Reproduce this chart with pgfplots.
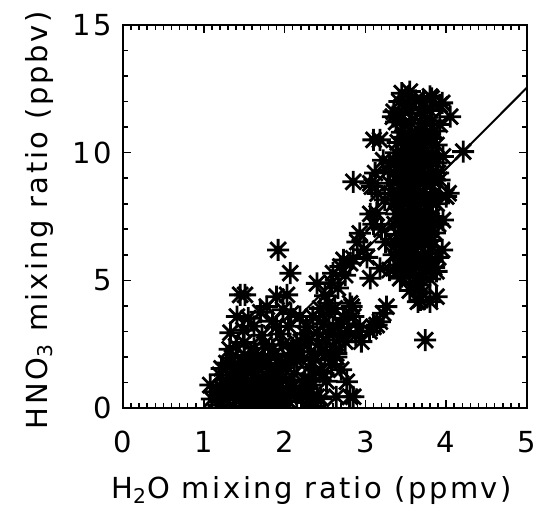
\documentclass[border=0pt]{standalone}
\usepackage{fontspec}
\setmainfont{DejaVu Sans}[LetterSpace=9]
\usepackage{pgfplots}
\pgfplotsset{compat=1.18}
\newcommand{\lab}{\fontsize{14.5}{17}\selectfont}
% eight-armed asterisk, as in the IDL plot
\pgfdeclareplotmark{ast8}{%
  \pgfpathmoveto{\pgfqpoint{-\pgfplotmarksize}{0pt}}\pgfpathlineto{\pgfqpoint{\pgfplotmarksize}{0pt}}%
  \pgfpathmoveto{\pgfqpoint{0pt}{-\pgfplotmarksize}}\pgfpathlineto{\pgfqpoint{0pt}{\pgfplotmarksize}}%
  \pgfpathmoveto{\pgfqpoint{-.7071\pgfplotmarksize}{-.7071\pgfplotmarksize}}\pgfpathlineto{\pgfqpoint{.7071\pgfplotmarksize}{.7071\pgfplotmarksize}}%
  \pgfpathmoveto{\pgfqpoint{-.7071\pgfplotmarksize}{.7071\pgfplotmarksize}}\pgfpathlineto{\pgfqpoint{.7071\pgfplotmarksize}{-.7071\pgfplotmarksize}}%
  \pgfusepathqstroke}

\pgfplotstableread{
x y
1.10 0.35
1.18 0.12
1.25 0.42
1.32 0.08
1.40 0.30
1.48 0.05
1.55 0.28
1.62 0.10
1.70 0.38
1.78 0.14
1.86 0.30
1.95 0.08
2.05 0.26
2.15 0.42
2.30 0.22
2.38 0.08
2.45 0.36
1.08 0.90
1.15 0.64
1.22 0.82
1.30 0.58
1.38 0.86
1.45 0.70
1.52 0.96
1.60 0.66
1.68 0.84
1.75 0.60
1.83 0.92
1.90 0.70
1.98 0.54
2.08 0.80
2.20 0.62
2.28 0.76
1.20 1.30
1.28 1.10
1.35 1.42
1.42 1.16
1.50 1.36
1.58 1.04
1.65 1.30
1.72 1.14
1.80 1.42
1.88 1.20
1.95 1.46
2.02 1.10
2.12 1.34
1.28 1.76
1.35 1.96
1.42 1.70
1.50 2.06
1.57 1.80
1.65 2.00
1.72 1.66
1.80 1.90
1.88 2.10
1.95 1.74
2.05 2.00
2.15 1.86
1.32 2.30
1.40 2.42
1.50 2.56
1.62 2.34
1.75 2.50
1.85 2.30
1.98 2.46
2.10 2.36
2.20 2.60
1.45 0.40
1.60 0.45
1.75 0.95
1.55 0.60
1.65 0.15
1.85 1.00
1.40 1.00
1.50 1.75
1.22 0.50
1.37 0.52
1.52 0.48
1.67 0.55
1.82 0.50
1.97 0.45
1.22 1.55
1.37 1.58
1.52 1.52
1.67 1.60
1.82 1.55
1.97 1.58
2.25 1.10
2.35 1.30
2.42 2.50
2.50 2.10
2.20 2.20
2.30 2.70
2.55 2.90
2.05 3.20
2.60 3.20
2.35 0.90
1.33 2.95
1.41 3.58
1.49 3.05
1.55 3.52
1.62 3.20
1.70 3.75
1.78 3.97
1.85 3.40
1.90 3.18
1.45 4.43
1.51 4.43
1.90 4.36
2.03 4.43
1.92 6.19
2.07 5.28
1.98 3.85
2.08 3.70
1.72 2.85
1.95 2.90
2.19 3.58
2.27 3.18
2.35 3.58
2.40 4.88
2.44 3.90
2.52 2.66
2.60 2.40
2.64 2.00
2.15 2.00
2.15 2.54
2.25 2.90
2.32 2.20
2.40 2.95
2.48 3.30
2.55 3.70
2.30 1.60
2.38 1.90
2.45 1.45
2.48 1.36
2.52 1.05
2.58 1.70
2.64 2.14
2.70 1.50
2.77 1.03
2.85 0.44
2.64 0.44
2.81 0.44
2.23 0.44
2.29 0.57
2.11 0.84
2.40 0.44
2.60 5.28
2.73 5.80
2.85 5.86
2.81 5.67
2.69 5.54
2.75 5.20
2.58 4.90
2.66 4.70
2.50 4.40
2.55 4.10
2.62 3.90
2.73 3.51
2.81 4.10
2.83 3.97
2.85 3.58
2.93 3.18
2.70 3.30
2.78 3.00
2.68 2.80
2.75 2.60
2.95 2.60
2.88 2.85
3.10 3.18
3.14 3.25
3.22 3.71
3.26 3.97
3.18 3.38
3.05 3.00
2.93 6.84
2.90 6.50
2.98 6.20
3.02 5.90
3.06 5.08
3.18 5.47
3.35 6.00
3.06 7.60
3.14 7.63
3.10 7.20
3.20 7.00
3.24 8.15
3.25 6.50
3.30 5.40
3.43 5.08
3.59 4.88
3.68 4.82
2.85 8.86
3.06 8.80
3.08 8.67
3.15 8.40
3.12 9.20
3.18 10.50
3.10 10.50
3.22 9.70
3.28 9.30
3.68 4.23
3.80 4.16
3.88 4.36
3.65 4.16
3.74 2.66
3.55 4.60
3.70 4.50
3.45 5.15
3.55 5.30
3.62 5.10
3.72 5.25
3.80 5.05
3.88 5.35
3.40 5.60
3.50 5.50
3.58 5.70
3.66 5.55
3.75 5.65
3.85 5.50
3.42 6.05
3.52 5.90
3.60 6.10
3.70 5.95
3.78 6.05
3.90 5.90
3.38 6.40
3.47 6.30
3.56 6.50
3.64 6.35
3.73 6.45
3.82 6.30
3.95 6.19
3.40 6.80
3.50 6.90
3.59 6.75
3.68 6.85
3.77 6.70
3.86 6.85
3.36 7.20
3.45 7.10
3.54 7.30
3.62 7.15
3.70 7.25
3.80 7.10
3.90 7.20
3.38 7.60
3.48 7.50
3.57 7.70
3.66 7.55
3.74 7.65
3.83 7.50
3.96 7.36
3.35 8.00
3.44 7.90
3.52 8.10
3.60 7.95
3.69 8.05
3.78 7.90
3.88 8.00
3.32 8.40
3.42 8.30
3.50 8.50
3.58 8.35
3.66 8.45
3.75 8.30
3.85 8.40
4.03 8.41
3.30 8.80
3.40 8.90
3.48 8.75
3.56 8.85
3.64 8.70
3.73 8.90
3.82 8.75
3.92 8.93
3.35 9.20
3.45 9.10
3.53 9.30
3.62 9.15
3.70 9.25
3.80 9.10
3.90 9.20
3.30 9.60
3.42 9.50
3.50 9.70
3.60 9.55
3.68 9.65
3.78 9.50
3.88 9.60
3.38 10.00
3.48 9.90
3.56 10.10
3.65 9.95
3.74 10.05
3.84 9.90
3.96 9.85
3.40 10.40
3.50 10.30
3.58 10.50
3.68 10.35
3.76 10.45
3.88 10.30
3.45 10.80
3.55 10.70
3.65 10.90
3.75 10.75
3.85 10.85
3.38 11.20
3.48 11.10
3.58 11.30
3.70 11.15
3.82 11.25
3.92 11.10
3.35 11.60
3.45 11.50
3.55 11.70
3.68 11.55
3.80 11.65
3.92 11.87
3.42 12.00
3.52 11.95
3.62 12.05
3.72 12.00
3.82 12.13
3.95 11.95
3.45 12.33
3.55 12.39
3.80 12.20
4.05 11.41
4.21 10.04
4.00 8.28
3.34 11.41
3.46 5.80
3.55 5.85
3.64 5.78
3.73 5.82
3.82 5.76
3.46 6.60
3.55 6.62
3.64 6.58
3.73 6.64
3.82 6.56
3.46 7.40
3.55 7.42
3.64 7.38
3.73 7.44
3.82 7.36
3.46 8.20
3.55 8.22
3.64 8.18
3.73 8.24
3.82 8.16
3.46 9.00
3.55 9.02
3.64 8.98
3.73 9.04
3.82 8.96
3.46 9.80
3.55 9.82
3.64 9.78
3.73 9.84
3.82 9.76
3.46 10.60
3.55 10.62
3.64 10.58
3.73 10.64
3.82 10.56
}\hno

\begin{document}
\begin{tikzpicture}
\begin{axis}[
  scale only axis,
  width=202pt, height=191.5pt,
  xmin=0, xmax=5, ymin=0, ymax=15,
  xtick={0,1,2,3,4,5}, ytick={0,5,10,15},
  minor x tick num=9, minor y tick num=4,
  tick align=inside,
  major tick length=4pt, minor tick length=2.5pt,
  every tick/.style={black, line width=0.8pt},
  axis line style={line width=1pt},
  /pgf/number format/assume math mode=true,
  tick label style={font=\lab},
  xticklabel style={yshift=-8pt},
  yticklabel style={xshift=-2pt},
  xlabel={H\textsubscript{2}O mixing ratio (ppmv)},
  ylabel={HNO\textsubscript{3} mixing ratio (ppbv)},
  label style={font=\lab},
  xlabel style={at={(axis description cs:0.467,-0.16)}, anchor=north},
  ylabel style={at={(axis description cs:-0.155,0.49)}, anchor=south},
  clip marker paths=true,
  axis on top,
]
\addplot[only marks, mark=ast8, mark size=5.5pt, line width=1.4pt, black] table {\hno};
\addplot[black, line width=1pt, no marks] coordinates {(1.05,0) (5,12.55)};
\end{axis}
\pgfresetboundingbox
\path[use as bounding box] ([xshift=-61.5pt,yshift=-49pt]current axis.south west)
  rectangle ([xshift=5pt,yshift=12.5pt]current axis.north east);
\end{tikzpicture}
\end{document}
